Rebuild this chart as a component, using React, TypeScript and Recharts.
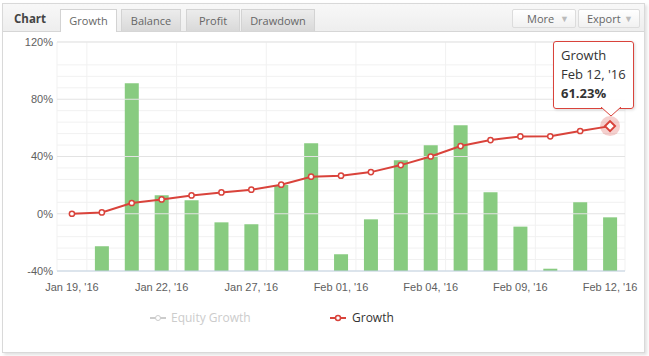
import React from "react";
import {
  ComposedChart, Bar, Line, XAxis, YAxis, CartesianGrid, Tooltip, Legend, ReferenceLine,
} from "recharts";

const RED = "#d9433b";
const GREEN = "#88cb80";

// weekday dates on the x axis
const dates = [
  "Jan 19, '16", "Jan 20, '16", "Jan 21, '16", "Jan 22, '16", "Jan 25, '16",
  "Jan 26, '16", "Jan 27, '16", "Jan 28, '16", "Jan 29, '16", "Feb 01, '16",
  "Feb 02, '16", "Feb 03, '16", "Feb 04, '16", "Feb 05, '16", "Feb 08, '16",
  "Feb 09, '16", "Feb 10, '16", "Feb 11, '16", "Feb 12, '16",
];

// cumulative growth, %
const growth = [0, 0.9, 7.5, 10.0, 12.8, 14.9, 16.8, 20.3, 25.9, 26.6, 29.1, 34.0, 40.0, 47.3, 51.5, 54.0, 54.1, 57.8, 61.23];

// bar tops on the % axis (bars rise from the bottom of the plot)
const barTops = [null, -22.7, 91.2, 12.9, 9.4, -6.0, -7.4, 20.1, 49.2, -28.3, -3.9, 37.4, 47.8, 61.8, 15.0, -9.0, -38.4, 8.0, -2.5];

const yTicks = [-40, -32, -24, -16, -8, 0, 8, 16, 24, 32, 40, 48, 56, 64, 72, 80, 88, 96, 104, 112, 120];
const majorTicks = [0, 40, 80, 120];

const data = dates.map((d, i) => ({
  date: d,
  growth: growth[i],
  bar: barTops[i] == null ? null : [-40, barTops[i]],
}));

const LAST = dates.length - 1;

const GrowthDot = (props: any) => {
  const { cx, cy, index } = props;
  if (index === LAST) {
    const s = 5;
    return (
      <g key={`d${index}`}>
        <circle cx={cx} cy={cy} r={10} fill={RED} fillOpacity={0.25} />
        <path d={`M${cx},${cy - s} L${cx + s},${cy} L${cx},${cy + s} L${cx - s},${cy} Z`} fill="#fff" stroke={RED} strokeWidth={2} />
      </g>
    );
  }
  return <circle key={`d${index}`} cx={cx} cy={cy} r={2.6} fill="#fff" stroke={RED} strokeWidth={1.5} />;
};

const TipBox = ({ active, payload }: any) => {
  if (!active || !payload || !payload.length) return null;
  const row = payload[0].payload;
  return (
    <div style={{ position: "relative", fontFamily: "'Open Sans', sans-serif", fontSize: 13, color: "#333" }}>
      <div style={{
        width: 66, padding: "4px 6px 5px 7px", background: "rgba(255,255,255,0.95)",
        border: `1px solid ${RED}`, borderRadius: 3, lineHeight: "19px",
        boxShadow: "1px 1px 3px rgba(0,0,0,0.15)",
      }}>
        <div>Growth</div>
        <div>{row.date}</div>
        <div style={{ fontWeight: 700 }}>{row.growth.toFixed(2)}%</div>
      </div>
      <svg width={20} height={10} style={{ position: "absolute", left: 48, top: 66 }}>
        <path d="M0,0 L10,9 L20,0" fill="#fff" stroke={RED} strokeWidth={1} />
      </svg>
    </div>
  );
};

const LegendContent = () => (
  <div style={{ position: "relative", height: 18, fontFamily: "'Open Sans', sans-serif", fontSize: 12 }}>
    <div style={{ position: "absolute", left: 150, top: 1, display: "flex", alignItems: "center", color: "#cccccc" }}>
      <svg width={16} height={10}>
        <line x1={0} y1={5} x2={16} y2={5} stroke="#ccc" strokeWidth={2} />
        <circle cx={8} cy={5} r={2.5} fill="#fff" stroke="#ccc" />
      </svg>
      <span style={{ marginLeft: 5 }}>Equity Growth</span>
    </div>
    <div style={{ position: "absolute", left: 330, top: 1, display: "flex", alignItems: "center", color: "#333" }}>
      <svg width={16} height={10}>
        <line x1={0} y1={5} x2={16} y2={5} stroke={RED} strokeWidth={2} />
        <circle cx={8} cy={5} r={2.5} fill="#fff" stroke={RED} strokeWidth={1.5} />
      </svg>
      <span style={{ marginLeft: 6 }}>Growth</span>
    </div>
  </div>
);

const tabStyle: React.CSSProperties = {
  position: "absolute", top: 9, height: 21, border: "1px solid #d3d3d3", borderBottom: "none",
  background: "linear-gradient(#ececec, #d9d9d9)", color: "#666", fontSize: 11,
  textAlign: "center", lineHeight: "21px", boxSizing: "content-box",
};

const btnStyle: React.CSSProperties = {
  position: "absolute", top: 9, height: 17, border: "1px solid #dcdcdc", borderRadius: 2,
  background: "linear-gradient(#ffffff, #f1f1f1)", color: "#666", fontSize: 11, lineHeight: "17px",
};

export default function App() {
  return (
    <div style={{ position: "fixed", left: 0, top: 0, width: 649, height: 356, background: "#fff", fontFamily: "'Open Sans', sans-serif" }}>
      {/* widget frame */}
      <div style={{
        position: "absolute", left: 2, top: 3, width: 641, height: 348, border: "1px solid #d9d9d9",
        boxShadow: "2px 2px 3px rgba(0,0,0,0.12)", background: "#fff",
      }} />
      {/* header bar */}
      <div style={{
        position: "absolute", left: 3, top: 4, width: 641, height: 27,
        background: "linear-gradient(#f8f8f8, #eeeeee)", borderBottom: "1px solid #d6d6d6",
      }} />
      <div style={{ position: "absolute", left: 14, top: 11, fontSize: 11.5, fontWeight: 700, color: "#444" }}>Chart</div>
      <div style={{ ...tabStyle, left: 60, width: 55, background: "#fff", height: 22 }}>Growth</div>
      <div style={{ ...tabStyle, left: 121, width: 58 }}>Balance</div>
      <div style={{ ...tabStyle, left: 186, width: 52 }}>Profit</div>
      <div style={{ ...tabStyle, left: 241, width: 72 }}>Drawdown</div>
      <div style={{ ...btnStyle, left: 512, width: 62 }}>
        <span style={{ position: "absolute", left: 14 }}>More</span>
        <span style={{ position: "absolute", right: 6, color: "#bbb", fontSize: 9 }}>▼</span>
      </div>
      <div style={{ ...btnStyle, left: 578, width: 60 }}>
        <span style={{ position: "absolute", left: 8 }}>Export</span>
        <span style={{ position: "absolute", right: 6, color: "#bbb", fontSize: 9 }}>▼</span>
      </div>

      <div style={{ position: "absolute", left: 0, top: 0 }}>
        <ComposedChart width={649} height={356} data={data} margin={{ top: 42, right: 24, left: 7, bottom: 30 }}>
          <CartesianGrid
            stroke="#f1f1f1"
            verticalCoordinatesGenerator={({ offset }: any) =>
              [0, 1, 4, 7, 10, 13, 16, 19].map(k => offset.left + (offset.width * k) / 19)}
          />
          {majorTicks.map(t => (
            <ReferenceLine key={t} y={t} stroke="#e3e3e3" />
          ))}
          <XAxis
            dataKey="date"
            interval={2}
            height={37}
            tickLine={false}
            tickMargin={6}
            axisLine={{ stroke: "#c0d0e0" }}
            tick={{ fontSize: 11, fill: "#606060", fontFamily: "'Liberation Sans', Arial, sans-serif" }}
          />
          <YAxis
            domain={[-40, 120]}
            ticks={yTicks}
            width={50}
            axisLine={false}
            tickLine={false}
            tickSize={0}
            tickMargin={4}
            tickFormatter={(v: number) => (v % 40 === 0 ? `${v}%` : "")}
            tick={{ fontSize: 11, fill: "#606060", fontFamily: "'Liberation Sans', Arial, sans-serif" }}
          />
          <Bar dataKey="bar" barSize={14} fill={GREEN} isAnimationActive={false} />
          <Line
            dataKey="growth"
            stroke={RED}
            strokeWidth={2}
            dot={GrowthDot}
            activeDot={false}
            isAnimationActive={false}
          />
          <Tooltip
            content={<TipBox />}
            defaultIndex={LAST}
            position={{ x: 553, y: 41 }}
            cursor={false}
            isAnimationActive={false}
            wrapperStyle={{ outline: "none" }}
          />
          <Legend verticalAlign="bottom" height={18} content={<LegendContent />} wrapperStyle={{ left: 0, width: 649 }} />
        </ComposedChart>
      </div>
    </div>
  );
}
